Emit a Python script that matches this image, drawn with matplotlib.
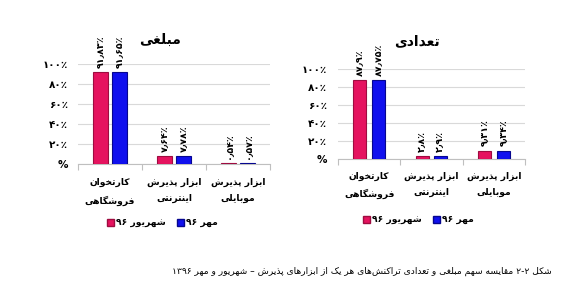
import matplotlib
matplotlib.use("Agg")
import matplotlib.pyplot as plt
from matplotlib.patches import Patch

# ---------------- data ----------------
categories = ["کارتخوان\nفروشگاهی", "ابزار پذیرش\nاینترنتی", "ابزار پذیرش\nموبایلی"]
series_names = ["شهریور ۹۶", "مهر ۹۶"]
amount_shahrivar = [91.83, 7.64, 0.54]
amount_mehr = [91.65, 7.78, 0.57]
amount_labels_shahrivar = ["۹۱٫۸۳٪", "۷٫۶۴٪", "۰٫۵۴٪"]
amount_labels_mehr = ["۹۱٫۶۵٪", "۷٫۷۸٪", "۰٫۵۷٪"]
count_shahrivar = [87.9, 2.8, 9.31]
count_mehr = [87.75, 2.9, 9.34]
count_labels_shahrivar = ["۸۷٫۹٪", "۲٫۸٪", "۹٫۳۱٪"]
count_labels_mehr = ["۸۷٫۷۵٪", "۲٫۹٪", "۹٫۳۴٪"]
y_ticks = [0, 20, 40, 60, 80, 100]
y_tick_labels = ["%", "۲۰٪", "۴۰٪", "۶۰٪", "۸۰٪", "۱۰۰٪"]
title_amount = "مبلغی"
title_count = "تعدادی"
caption = "شکل ۲-۲ مقایسه سهم مبلغی و تعدادی تراکنش\u200cهای هر یک از ابزارهای پذیرش – شهریور و مهر ۱۳۹۶"

# ---------------- simple Persian shaping ----------------
def _dual(base):
    return tuple(chr(base + k) for k in range(4))

def _right(base):
    return (chr(base), chr(base + 1), None, None)

FORMS = {
    '\u0627': _right(0xFE8D), '\u0622': _right(0xFE81),
    '\u0628': _dual(0xFE8F), '\u067E': _dual(0xFB56), '\u062A': _dual(0xFE95),
    '\u062B': _dual(0xFE99), '\u062C': _dual(0xFE9D), '\u0686': _dual(0xFB7A),
    '\u062D': _dual(0xFEA1), '\u062E': _dual(0xFEA5),
    '\u062F': _right(0xFEA9), '\u0630': _right(0xFEAB), '\u0631': _right(0xFEAD),
    '\u0632': _right(0xFEAF), '\u0698': _right(0xFB8A),
    '\u0633': _dual(0xFEB1), '\u0634': _dual(0xFEB5), '\u0635': _dual(0xFEB9),
    '\u0636': _dual(0xFEBD), '\u0637': _dual(0xFEC1), '\u0638': _dual(0xFEC5),
    '\u0639': _dual(0xFEC9), '\u063A': _dual(0xFECD), '\u0641': _dual(0xFED1),
    '\u0642': _dual(0xFED5), '\u06A9': _dual(0xFB8E), '\u06AF': _dual(0xFB92),
    '\u0644': _dual(0xFEDD), '\u0645': _dual(0xFEE1), '\u0646': _dual(0xFEE5),
    '\u0647': _dual(0xFEE9), '\u0648': _right(0xFEED), '\u06CC': _dual(0xFBFC),
    '\u0626': _dual(0xFE89),
}
LTR_CHARS = set("0123456789۰۱۲۳۴۵۶۷۸۹.٫-")

def shape_line(s):
    out = []
    n = len(s)
    for i, c in enumerate(s):
        if c == '\u200c':
            continue
        if c not in FORMS:
            out.append(c)
            continue
        prev = s[i - 1] if i > 0 else ''
        nxt = s[i + 1] if i + 1 < n else ''
        jp = prev in FORMS and FORMS[prev][2] is not None
        jn = FORMS[c][2] is not None and nxt in FORMS
        iso, fin, ini, med = FORMS[c]
        if jp and jn:
            out.append(med)
        elif jp:
            out.append(fin)
        elif jn:
            out.append(ini)
        else:
            out.append(iso)
    runs = []
    for ch in out:
        ltr = ch in LTR_CHARS
        if runs and runs[-1][0] == ltr:
            runs[-1][1].append(ch)
        else:
            runs.append([ltr, [ch]])
    vis = []
    for ltr, chars in reversed(runs):
        vis.append("".join(chars) if ltr else "".join(reversed(chars)))
    return "".join(vis)

def fa(s):
    return "\n".join(shape_line(line) for line in s.split("\n"))

# ---------------- style ----------------
plt.rcParams['font.family'] = ['DejaVu Sans']
PINK = '#E5135F'
PINK_EDGE = '#9E0C40'
BLUE = '#1010EE'
BLUE_EDGE = '#06068F'
GRID = '#D9D9D9'

W, H = 570, 300
fig = plt.figure(figsize=(W / 100, H / 100), dpi=100)

def px_axes(x0, x1, ytop, ybot):
    return fig.add_axes([x0 / W, 1 - ybot / H, (x1 - x0) / W, (ybot - ytop) / H])

def draw_panel(ax, s1, s2, l1, l2, title, title_xy, width, label_pad, tick_pad, leg_xy):
    x = list(range(len(categories)))
    off = 0.15
    b1 = ax.bar([i - off for i in x], s1, width, color=PINK, edgecolor=PINK_EDGE, linewidth=0.8, zorder=3)
    b2 = ax.bar([i + off for i in x], s2, width, color=BLUE, edgecolor=BLUE_EDGE, linewidth=0.8, zorder=3)
    for bars, labs in ((b1, l1), (b2, l2)):
        for r, lab in zip(bars, labs):
            ax.annotate(lab, (r.get_x() + r.get_width() / 2, r.get_height()),
                        xytext=(0, 3), textcoords='offset points', rotation=90,
                        ha='center', va='bottom', fontsize=6.8, fontweight='bold',
                        annotation_clip=False)
    ax.set_xlim(-0.5, len(categories) - 0.5)
    ax.set_ylim(0, 100)
    ax.set_yticks(y_ticks)
    ax.set_yticklabels(y_tick_labels, fontsize=7.5, fontweight='bold')
    ax.tick_params(axis='y', length=0, pad=tick_pad)
    ax.yaxis.grid(True, color=GRID, linewidth=0.8, zorder=0)
    ax.set_axisbelow(True)
    ax.set_xticks([i - 0.5 for i in range(len(categories) + 1)])
    ax.set_xticklabels([])
    ax.tick_params(axis='x', which='major', length=4, color='#BFBFBF', direction='out')
    ax.set_xticks(x, minor=True)
    ax.set_xticklabels([fa(c) for c in categories], minor=True, fontsize=6.6,
                       fontweight='bold', linespacing=2.0)
    ax.tick_params(axis='x', which='minor', length=0, pad=label_pad)
    for sp in ('left', 'right', 'top'):
        ax.spines[sp].set_visible(False)
    ax.spines['bottom'].set_color('#BFBFBF')
    ax.spines['bottom'].set_linewidth(0.8)
    fig.text(title_xy[0] / W, 1 - title_xy[1] / H, fa(title), ha='center', va='center',
             fontsize=10, fontweight='bold')
    handles = [Patch(facecolor=PINK, edgecolor=PINK_EDGE), Patch(facecolor=BLUE, edgecolor=BLUE_EDGE)]
    fig.legend(handles, [fa(n) for n in series_names], loc='center',
               bbox_to_anchor=(leg_xy[0] / W, 1 - leg_xy[1] / H), ncol=2, frameon=False,
               prop={'size': 6.6, 'weight': 'bold'}, handlelength=0.8, handleheight=0.8,
               handletextpad=0.2, columnspacing=1.2, borderaxespad=0)

ax1 = px_axes(78, 270, 64, 164)
draw_panel(ax1, amount_shahrivar, amount_mehr, amount_labels_shahrivar, amount_labels_mehr,
           title_amount, (160, 40), 0.23, 10, 7, (162, 223))

ax2 = px_axes(338, 525, 69, 159)
draw_panel(ax2, count_shahrivar, count_mehr, count_labels_shahrivar, count_labels_mehr,
           title_count, (417, 41), 0.21, 9, 8, (418, 220))

fig.text(552 / W, 1 - 271 / H, fa(caption), ha='right', va='center', fontsize=6.6)

fig.savefig("out.png", dpi=100)
